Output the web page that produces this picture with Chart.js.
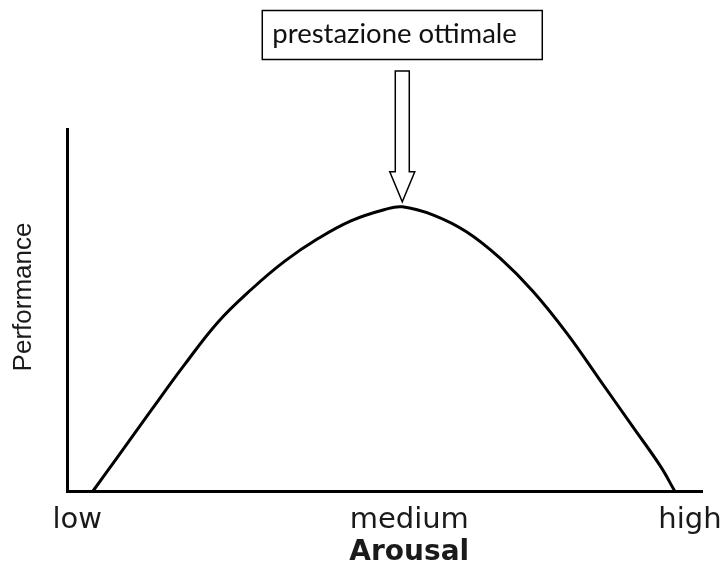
<!DOCTYPE html>
<html>
<head>
<meta charset="utf-8">
<script src="https://cdn.jsdelivr.net/npm/chart.js@4.4.1/dist/chart.umd.min.js"></script>
<style>
  html, body { margin: 0; padding: 0; background: #fff; }
  #chart { display: block; }
</style>
</head>
<body>
<canvas id="chart" width="724" height="570"></canvas>
<script>
// inverted-U curve, values (x 0..100, y 0..100)
const arousal = [4.1, 8.1, 13.3, 18.6, 23.8, 29.1, 34.3, 39.6, 44.8, 50.1, 52.8, 57.7, 62.9, 68.2, 73.4, 78.7, 83.9, 89.2, 93.4, 95.7];
const performance = [0, 9.7, 22.4, 35.1, 46.7, 55.8, 63.5, 69.8, 74.7, 77.8, 78.5, 76.2, 71.6, 64.3, 55.1, 43.6, 30.7, 17.5, 7.0, 0];
const tickValues = [1.6, 53.9, 98.1];
const tickLabels = ["low", "medium", "high"];
const xTitle = "Arousal";
const yTitle = "Performance";
const peakLabel = "prestazione ottimale";

// box + hollow arrow over the peak, plus the axis titles
const annotations = {
  id: "annotations",
  afterDraw(chart) {
    const { ctx, scales: { x, y } } = chart;
    const top = Math.max(...performance);
    const i = performance.indexOf(top);
    const px = x.getPixelForValue(arousal[i]);
    const py = y.getPixelForValue(top);
    ctx.save();

    const boxW = 280;
    ctx.strokeStyle = "#000";
    ctx.lineWidth = 1.5;
    ctx.strokeRect(px - boxW / 2, 10.5, boxW, 49);
    ctx.fillStyle = "#111";
    ctx.font = "27.5px Lato";
    ctx.textAlign = "left";
    ctx.textBaseline = "alphabetic";
    ctx.fillText(peakLabel, px - boxW / 2 + 10, 43);

    const tipY = py - 5;
    const headY = tipY - 30;
    ctx.beginPath();
    ctx.moveTo(px - 7, 71);
    ctx.lineTo(px + 7, 71);
    ctx.lineTo(px + 7, headY);
    ctx.lineTo(px + 12.5, headY);
    ctx.lineTo(px, tipY);
    ctx.lineTo(px - 12.5, headY);
    ctx.lineTo(px - 7, headY);
    ctx.closePath();
    ctx.fillStyle = "#fff";
    ctx.fill();
    ctx.stroke();

    ctx.fillStyle = "#1a1a1a";
    ctx.textAlign = "center";
    ctx.textBaseline = "middle";
    ctx.font = "bold 28px 'DejaVu Sans'";
    ctx.fillText(xTitle, x.getPixelForValue(tickValues[1]), 553);

    ctx.translate(24, 297);
    ctx.rotate(-Math.PI / 2);
    ctx.font = "26px 'Liberation Sans'";
    ctx.fillText(yTitle, 0, 0);
    ctx.restore();
  }
};

new Chart(document.getElementById("chart"), {
  type: "line",
  data: {
    datasets: [{
      data: arousal.map((v, i) => ({ x: v, y: performance[i] })),
      borderColor: "#000",
      borderWidth: 3,
      pointRadius: 0,
      tension: 0.4,
      clip: false
    }]
  },
  options: {
    responsive: false,
    animation: false,
    layout: { padding: { top: 129, right: 22, left: 0, bottom: 0 } },
    plugins: { legend: { display: false }, tooltip: { enabled: false } },
    scales: {
      x: {
        type: "linear",
        min: 0,
        max: 100,
        afterFit(scale) {
          scale.height = 79;
          scale.paddingLeft = 0;
          scale.paddingRight = 0;
        },
        afterBuildTicks(scale) { scale.ticks = tickValues.map(v => ({ value: v })); },
        grid: { display: false, drawTicks: false },
        border: { display: true, color: "#000", width: 3 },
        ticks: {
          autoSkip: false,
          maxRotation: 0,
          padding: 12,
          color: "#1a1a1a",
          font: { family: "'DejaVu Sans'", size: 29 },
          callback: (v, i) => tickLabels[i]
        }
      },
      y: {
        min: 0,
        max: 100,
        afterFit(scale) { scale.width = 67; },
        grid: { display: false, drawTicks: false },
        border: { display: true, color: "#000", width: 3 },
        ticks: { display: false }
      }
    }
  },
  plugins: [annotations]
});
</script>
</body>
</html>
